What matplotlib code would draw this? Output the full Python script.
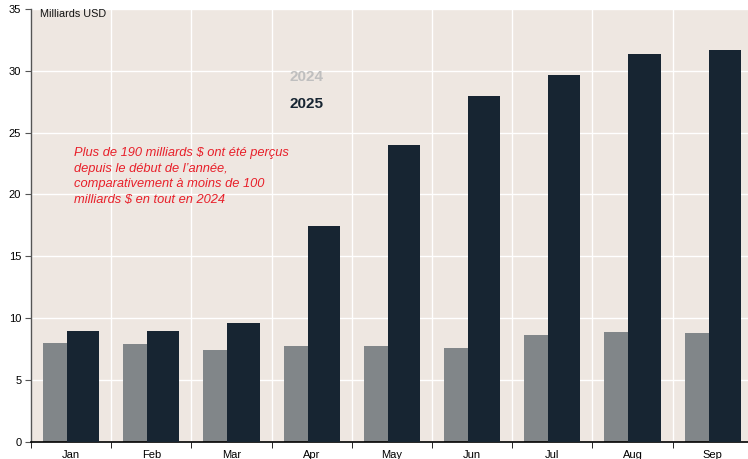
import matplotlib
matplotlib.use("Agg")
import matplotlib.pyplot as plt
import numpy as np

plt.rcParams['font.family'] = ['Liberation Sans', 'DejaVu Sans']

months = ["Jan", "Feb", "Mar", "Apr", "May", "Jun", "Jul", "Aug", "Sep"]
vals_2024 = [7.94, 7.86, 7.42, 7.72, 7.70, 7.53, 8.63, 8.88, 8.80]
vals_2025 = [8.96, 8.91, 9.60, 17.40, 24.00, 28.00, 29.65, 31.33, 31.65]
yticks = [0, 5, 10, 15, 20, 25, 30, 35]

bg = "#EEE7E1"
c24 = "#818689"
c25 = "#172532"
red = "#E8202A"

W, H = 748, 459
fig = plt.figure(figsize=(W/100, H/100), dpi=100)
ax = fig.add_axes([31/W, (H-441.5)/H, (748-31)/W, (441.5-9)/H])
ax.set_facecolor(bg)

x = np.arange(len(months))
ax.bar(x - 0.15, vals_2024, width=0.4, color=c24, zorder=2)
ax.bar(x + 0.15, vals_2025, width=0.4, color=c25, zorder=3)

ax.set_xlim(-0.5, -0.5 + (748-31)/80.2)
ax.set_ylim(0, 35)
ax.set_yticks(yticks)
ax.set_xticks(x)
ax.set_xticklabels(months)
ax.set_xticks(np.arange(-0.5, 8.5, 1.0), minor=True)
ax.tick_params(axis='x', which='major', length=0, labelsize=8, pad=6)
ax.tick_params(axis='x', which='minor', length=4, direction='out', color='black')
ax.tick_params(axis='y', length=4, direction='out', labelsize=8, color='#555555', pad=3)

ax.grid(True, axis='y', color='white', linewidth=1.0, zorder=1)
ax.grid(True, axis='x', which='minor', color='white', linewidth=1.0, zorder=1)
ax.set_axisbelow(True)

for s in ['top', 'right']:
    ax.spines[s].set_visible(False)
ax.spines['left'].set_color('#555555')
ax.spines['left'].set_linewidth(1.0)
ax.spines['bottom'].set_color('black')
ax.spines['bottom'].set_linewidth(1.2)

ax.text(40/W, 1 - 9/H, "Milliards USD", transform=fig.transFigure, fontsize=7.8,
        va='top', ha='left', color='#111111')

ax.text(290/W, 1 - 77/H, "2024", transform=fig.transFigure, fontsize=11,
        fontweight='bold', color='#BFBFBF', va='center', ha='left')
ax.text(290/W, 1 - 104/H, "2025", transform=fig.transFigure, fontsize=11,
        fontweight='bold', color=c25, va='center', ha='left')

ax.text(74/W, 1 - 147/H,
        "Plus de 190 milliards $ ont été perçus\ndepuis le début de l’année,\n"
        "comparativement à moins de 100\nmilliards $ en tout en 2024",
        transform=fig.transFigure, fontsize=9.3, style='italic', color=red,
        va='top', ha='left', linespacing=1.4)

fig.savefig("out.png", dpi=100, facecolor='white')
